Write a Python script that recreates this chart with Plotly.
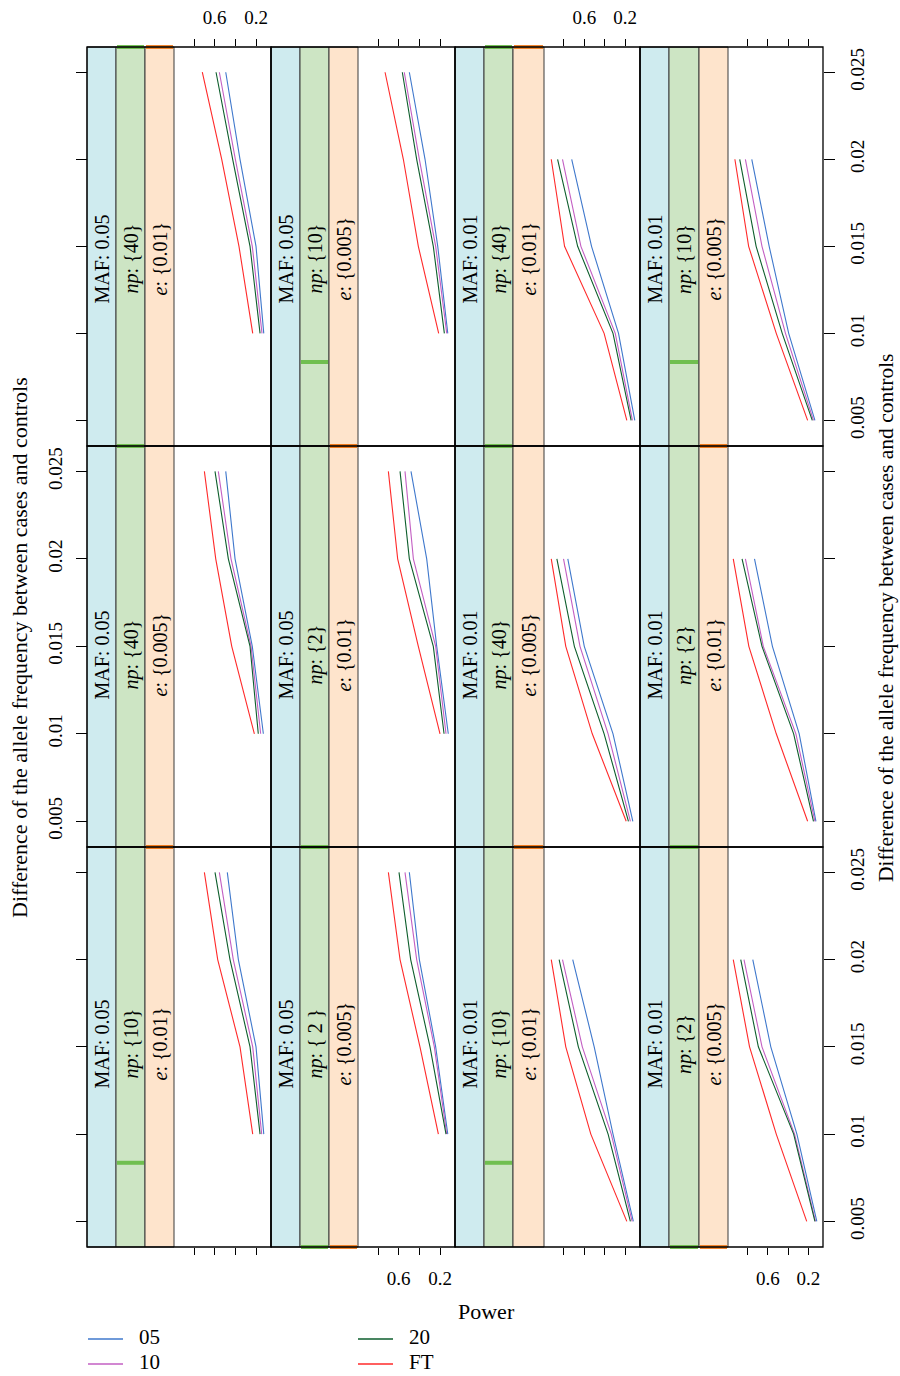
import plotly.graph_objects as go

# ---------------- data ----------------
diff_maf05 = [0.01, 0.015, 0.02, 0.025]
diff_maf01 = [0.005, 0.01, 0.015, 0.02]

series_names = ["05", "10", "20", "FT"]

# panel order: row-major, top row first, left to right
panel_maf = ["0.05", "0.05", "0.01", "0.01",
             "0.05", "0.05", "0.01", "0.01",
             "0.05", "0.05", "0.01", "0.01"]
panel_np = [40, 10, 40, 10,
            40, 2, 40, 2,
            10, 2, 10, 2]
panel_np_text = ["{40}", "{10}", "{40}", "{10}",
                 "{40}", "{2}", "{40}", "{2}",
                 "{10}", "{ 2 }", "{10}", "{2}"]
panel_e = [0.01, 0.005, 0.01, 0.005,
           0.005, 0.01, 0.005, 0.01,
           0.01, 0.005, 0.01, 0.005]
panel_e_text = ["{0.01}", "{0.005}", "{0.01}", "{0.005}",
                "{0.005}", "{0.01}", "{0.005}", "{0.01}",
                "{0.01}", "{0.005}", "{0.01}", "{0.005}"]
np_levels = [2, 10, 40]
e_levels = [0.005, 0.01]

power_05 = [
    [0.125, 0.200, 0.355, 0.493], [0.125, 0.222, 0.345, 0.497],
    [0.106, 0.265, 0.529, 0.723], [0.135, 0.394, 0.587, 0.759],
    [0.129, 0.236, 0.403, 0.493], [0.120, 0.232, 0.329, 0.481],
    [0.125, 0.319, 0.600, 0.761], [0.125, 0.290, 0.555, 0.732],
    [0.125, 0.200, 0.371, 0.478], [0.125, 0.242, 0.400, 0.497],
    [0.120, 0.319, 0.503, 0.713], [0.116, 0.313, 0.571, 0.749],
]
power_10 = [
    [0.142, 0.236, 0.400, 0.555], [0.135, 0.242, 0.400, 0.546],
    [0.129, 0.297, 0.633, 0.813], [0.149, 0.426, 0.658, 0.822],
    [0.155, 0.248, 0.442, 0.565], [0.142, 0.242, 0.458, 0.539],
    [0.149, 0.367, 0.642, 0.803], [0.135, 0.323, 0.645, 0.822],
    [0.145, 0.232, 0.420, 0.555], [0.135, 0.255, 0.426, 0.539],
    [0.132, 0.336, 0.619, 0.813], [0.129, 0.336, 0.658, 0.836],
]
power_20 = [
    [0.161, 0.258, 0.426, 0.587], [0.158, 0.265, 0.426, 0.565],
    [0.142, 0.319, 0.665, 0.861], [0.161, 0.458, 0.716, 0.878],
    [0.178, 0.258, 0.468, 0.597], [0.161, 0.265, 0.497, 0.587],
    [0.168, 0.406, 0.697, 0.868], [0.149, 0.345, 0.658, 0.855],
    [0.161, 0.258, 0.452, 0.597], [0.142, 0.297, 0.484, 0.597],
    [0.149, 0.367, 0.658, 0.846], [0.135, 0.345, 0.694, 0.868],
]
power_FT = [
    [0.232, 0.365, 0.532, 0.720], [0.213, 0.410, 0.555, 0.732],
    [0.184, 0.406, 0.793, 0.923], [0.207, 0.517, 0.790, 0.926],
    [0.216, 0.435, 0.590, 0.700], [0.200, 0.410, 0.610, 0.700],
    [0.190, 0.522, 0.781, 0.923], [0.207, 0.517, 0.788, 0.942],
    [0.232, 0.355, 0.571, 0.700], [0.216, 0.394, 0.587, 0.700],
    [0.184, 0.536, 0.781, 0.923], [0.216, 0.517, 0.781, 0.942],
]

power_ticks = [0.2, 0.4, 0.6, 0.8]
power_ticktext = ["0.2", "", "0.6", ""]
diff_ticks = [0.005, 0.01, 0.015, 0.02, 0.025]
diff_ticktext = ["0.005", "0.01", "0.015", "0.02", "0.025"]

# ---------------- style / layout ----------------
W, H = 900, 1376
FONT = "Liberation Serif"
series_colors = {"05": "#3f78cc", "10": "#c35fc3", "20": "#0d5e2c", "FT": "#ff2a2a"}
series_power = {"05": power_05, "10": power_10, "20": power_20, "FT": power_FT}

strip_fill = ["#cfebef", "#cde5c4", "#fee4cc"]
bar_green = "#66bb44"
bar_orange = "#f07a1a"

col_edges = [[87, 116, 145, 174, 271],
             [271, 300, 329, 358, 455],
             [455, 484, 513, 544, 640],
             [640, 669, 699, 728, 823]]
row_edges = [[47, 446], [446, 847], [847, 1247]]
strip_text_y = [259, 655, 1044]

X_RANGE = [0.994, 0.055]
Y_RANGE = [0.00353, 0.02645]


def px(x):
    return x / W


def py(y):
    return 1 - y / H


fig = go.Figure()
layout = dict(
    width=W, height=H, autosize=False,
    margin=dict(l=0, r=0, t=0, b=0),
    paper_bgcolor="white", plot_bgcolor="white",
    showlegend=False,
    font=dict(family=FONT, size=19, color="black"),
)
shapes = []
annotations = []

for k in range(12):
    r, c = divmod(k, 4)
    idx = "" if k == 0 else str(k + 1)
    ce = col_edges[c]
    ry0, ry1 = row_edges[r]
    diffs = diff_maf05 if panel_maf[k] == "0.05" else diff_maf01

    for name in series_names:
        fig.add_trace(go.Scatter(
            x=series_power[name][k], y=diffs, mode="lines",
            line=dict(color=series_colors[name], width=1.1),
            xaxis="x" + idx, yaxis="y" + idx, name=name, showlegend=False,
            hoverinfo="skip"))

    xa = dict(domain=[px(ce[3]), px(ce[4])], range=X_RANGE, anchor="y" + idx,
              showgrid=False, zeroline=False, showline=False,
              tickvals=power_ticks, ticktext=power_ticktext,
              tickfont=dict(family=FONT, size=19, color="black"),
              ticks="outside", ticklen=7, tickwidth=1.2, tickcolor="black",
              ticklabelstandoff=7)
    if r == 0:
        xa.update(side="top", showticklabels=(c in (0, 2)))
    elif r == 2:
        xa.update(side="bottom", showticklabels=(c in (1, 3)))
    else:
        xa.update(ticks="", showticklabels=False)

    ya = dict(domain=[py(ry1), py(ry0)], range=Y_RANGE, anchor="x" + idx,
              showgrid=False, zeroline=False, showline=False,
              tickvals=diff_ticks, ticktext=diff_ticktext, tickangle=-90,
              tickfont=dict(family=FONT, size=19, color="black"),
              ticks="outside", ticklen=11, tickwidth=1.2, tickcolor="black",
              ticklabelstandoff=6)
    if c == 0:
        ya.update(side="left", anchor="free", position=px(ce[0]),
                  showticklabels=(r == 1))
    elif c == 3:
        ya.update(side="right", showticklabels=(r in (0, 2)))
    else:
        ya.update(ticks="", showticklabels=False)

    layout["xaxis" + idx] = xa
    layout["yaxis" + idx] = ya

    # strips
    for s in range(3):
        shapes.append(dict(type="rect", xref="paper", yref="paper",
                           x0=px(ce[s]), x1=px(ce[s + 1]), y0=py(ry1), y1=py(ry0),
                           fillcolor=strip_fill[s], line=dict(color="#3a3a3a", width=1),
                           layer="below"))
    # level indicators (shingle-style)
    f_np = (panel_np[k] - min(np_levels)) / (max(np_levels) - min(np_levels))
    f_e = (panel_e[k] - min(e_levels)) / (max(e_levels) - min(e_levels))
    for f, s, colr in ((f_np, 1, bar_green), (f_e, 2, bar_orange)):
        yb = ry1 - f * (ry1 - ry0)
        shapes.append(dict(type="line", xref="paper", yref="paper",
                           x0=px(ce[s] + 1), x1=px(ce[s + 1] - 1),
                           y0=py(yb), y1=py(yb),
                           line=dict(color=colr, width=4), opacity=0.9))

    # strip texts
    texts = ["MAF: " + panel_maf[k],
             "<i>np</i>: " + panel_np_text[k],
             "<i>e</i>: " + panel_e_text[k]]
    for s in range(3):
        annotations.append(dict(xref="paper", yref="paper",
                                x=px((ce[s] + ce[s + 1]) / 2), y=py(strip_text_y[r]),
                                text=texts[s], textangle=-90, showarrow=False,
                                xanchor="center", yanchor="middle",
                                font=dict(family=FONT, size=20, color="black")))

    # panel frame
    shapes.append(dict(type="rect", xref="paper", yref="paper",
                       x0=px(ce[0]), x1=px(ce[4]), y0=py(ry1), y1=py(ry0),
                       line=dict(color="black", width=1.3), layer="above"))

# axis titles
TITLE = "Difference of the allele frequency between cases and controls"
annotations.append(dict(xref="paper", yref="paper", x=px(486), y=py(1311),
                        text="Power", showarrow=False, xanchor="center", yanchor="middle",
                        font=dict(family=FONT, size=22, color="black")))
annotations.append(dict(xref="paper", yref="paper", x=px(20), y=py(648),
                        text=TITLE, textangle=-90, showarrow=False,
                        xanchor="center", yanchor="middle",
                        font=dict(family=FONT, size=22, color="black")))
annotations.append(dict(xref="paper", yref="paper", x=px(886), y=py(618),
                        text=TITLE, textangle=-90, showarrow=False,
                        xanchor="center", yanchor="middle",
                        font=dict(family=FONT, size=21.5, color="black")))

# legend (two columns)
legend_pos = {"05": (88, 1339), "10": (88, 1364), "20": (358, 1339), "FT": (358, 1364)}
for name in series_names:
    lx, ly = legend_pos[name]
    shapes.append(dict(type="line", xref="paper", yref="paper",
                       x0=px(lx), x1=px(lx + 35), y0=py(ly), y1=py(ly),
                       line=dict(color=series_colors[name], width=1.3)))
    annotations.append(dict(xref="paper", yref="paper", x=px(lx + 49), y=py(ly - 2),
                            text=name, showarrow=False, xanchor="left", yanchor="middle",
                            font=dict(family=FONT, size=21, color="black")))

layout["shapes"] = shapes
layout["annotations"] = annotations
fig.update_layout(**layout)
fig.write_html("out.html",
               config={"displayModeBar": False},
               post_script="document.body.style.margin='0px';"
                           "document.body.style.overflow='hidden';")
